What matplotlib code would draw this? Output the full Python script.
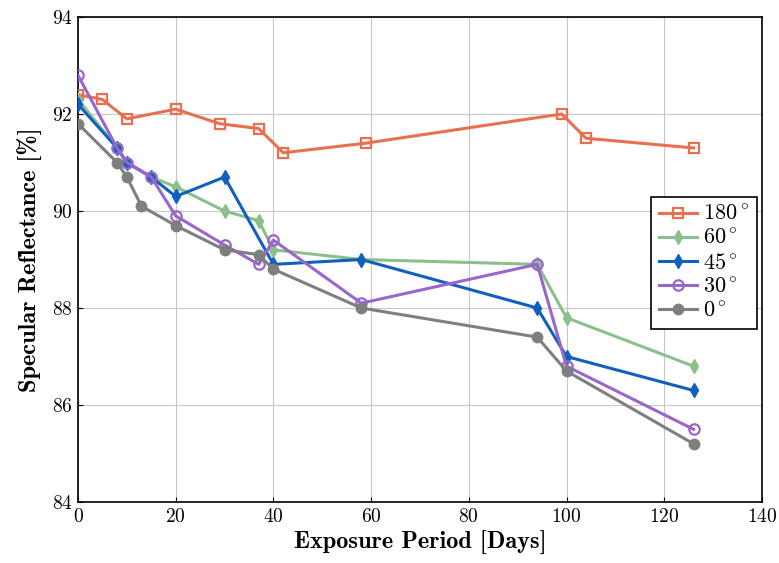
import matplotlib.pyplot as plt

plt.rcParams['font.family'] = 'cmr10'
plt.rcParams['mathtext.fontset'] = 'cm'
plt.rcParams['axes.formatter.use_mathtext'] = True

# Datos
d180 = [0, 5, 10, 20, 29, 37, 42, 59, 99, 104, 126]
r180 = [92.4, 92.3, 91.9, 92.1, 91.8, 91.7, 91.2, 91.4, 92.0, 91.5, 91.3]

d60 = [0, 8, 10, 15, 20, 30, 37, 40, 58, 94, 100, 126]
r60 = [92.3, 91.3, 91.0, 90.7, 90.5, 90.0, 89.8, 89.2, 89.0, 88.9, 87.8, 86.8]

d45 = [0, 8, 10, 15, 20, 30, 40, 58, 94, 100, 126]
r45 = [92.2, 91.3, 91.0, 90.7, 90.3, 90.7, 88.9, 89.0, 88.0, 87.0, 86.3]

d30 = [0, 8, 10, 15, 20, 30, 37, 40, 58, 94, 100, 126]
r30 = [92.8, 91.3, 91.0, 90.7, 89.9, 89.3, 88.9, 89.4, 88.1, 88.9, 86.8, 85.5]

d0 = [0, 8, 10, 13, 20, 30, 37, 40, 58, 94, 100, 126]
r0 = [91.8, 91.0, 90.7, 90.1, 89.7, 89.2, 89.1, 88.8, 88.0, 87.4, 86.7, 85.2]

labels = [r'$180^\circ$', r'$60^\circ$', r'$45^\circ$', r'$30^\circ$', r'$0^\circ$']

fig = plt.figure(figsize=(7.79, 5.63), dpi=100)
ax = fig.add_axes([0.1001, 0.1083, 0.878, 0.8615])

ax.plot(d180, r180, color='#E8704F', lw=2.2, marker='s', ms=6.5, mfc='none', mew=1.6, label=labels[0], zorder=3)
ax.plot(d60, r60, color='#8BBF8B', lw=2.2, marker='d', ms=7, label=labels[1], zorder=3)
ax.plot(d45, r45, color='#1060C0', lw=2.2, marker='d', ms=7, label=labels[2], zorder=3)
ax.plot(d30, r30, color='#9966CC', lw=2.2, marker='o', ms=7.5, mfc='none', mew=1.6, label=labels[3], zorder=3)
ax.plot(d0, r0, color='#7F7F7F', lw=2.2, marker='o', ms=7.5, label=labels[4], zorder=3)

ax.set_xlim(0, 140)
ax.set_ylim(84, 94)
ax.set_xticks(range(0, 141, 20))
ax.set_yticks(range(84, 95, 2))
ax.grid(True, color='#C8C8C8', lw=0.8)
ax.tick_params(labelsize=14, direction='in', pad=4)
for s in ax.spines.values():
    s.set_linewidth(1.2)

ax.set_xlabel('Exposure Period [Days]', fontfamily='cmb10', fontsize=17.5, labelpad=4)
ax.set_ylabel('Specular Reflectance [%]', fontfamily='cmb10', fontsize=17.5, labelpad=6)

leg = ax.legend(loc='upper right', bbox_to_anchor=(0.993, 0.629), fontsize=16,
                fancybox=False, framealpha=1, edgecolor='black', handlelength=1.7,
                borderpad=0.35, labelspacing=0.2, handletextpad=0.3, borderaxespad=0)
leg.get_frame().set_linewidth(1.2)

plt.savefig('out.png')
